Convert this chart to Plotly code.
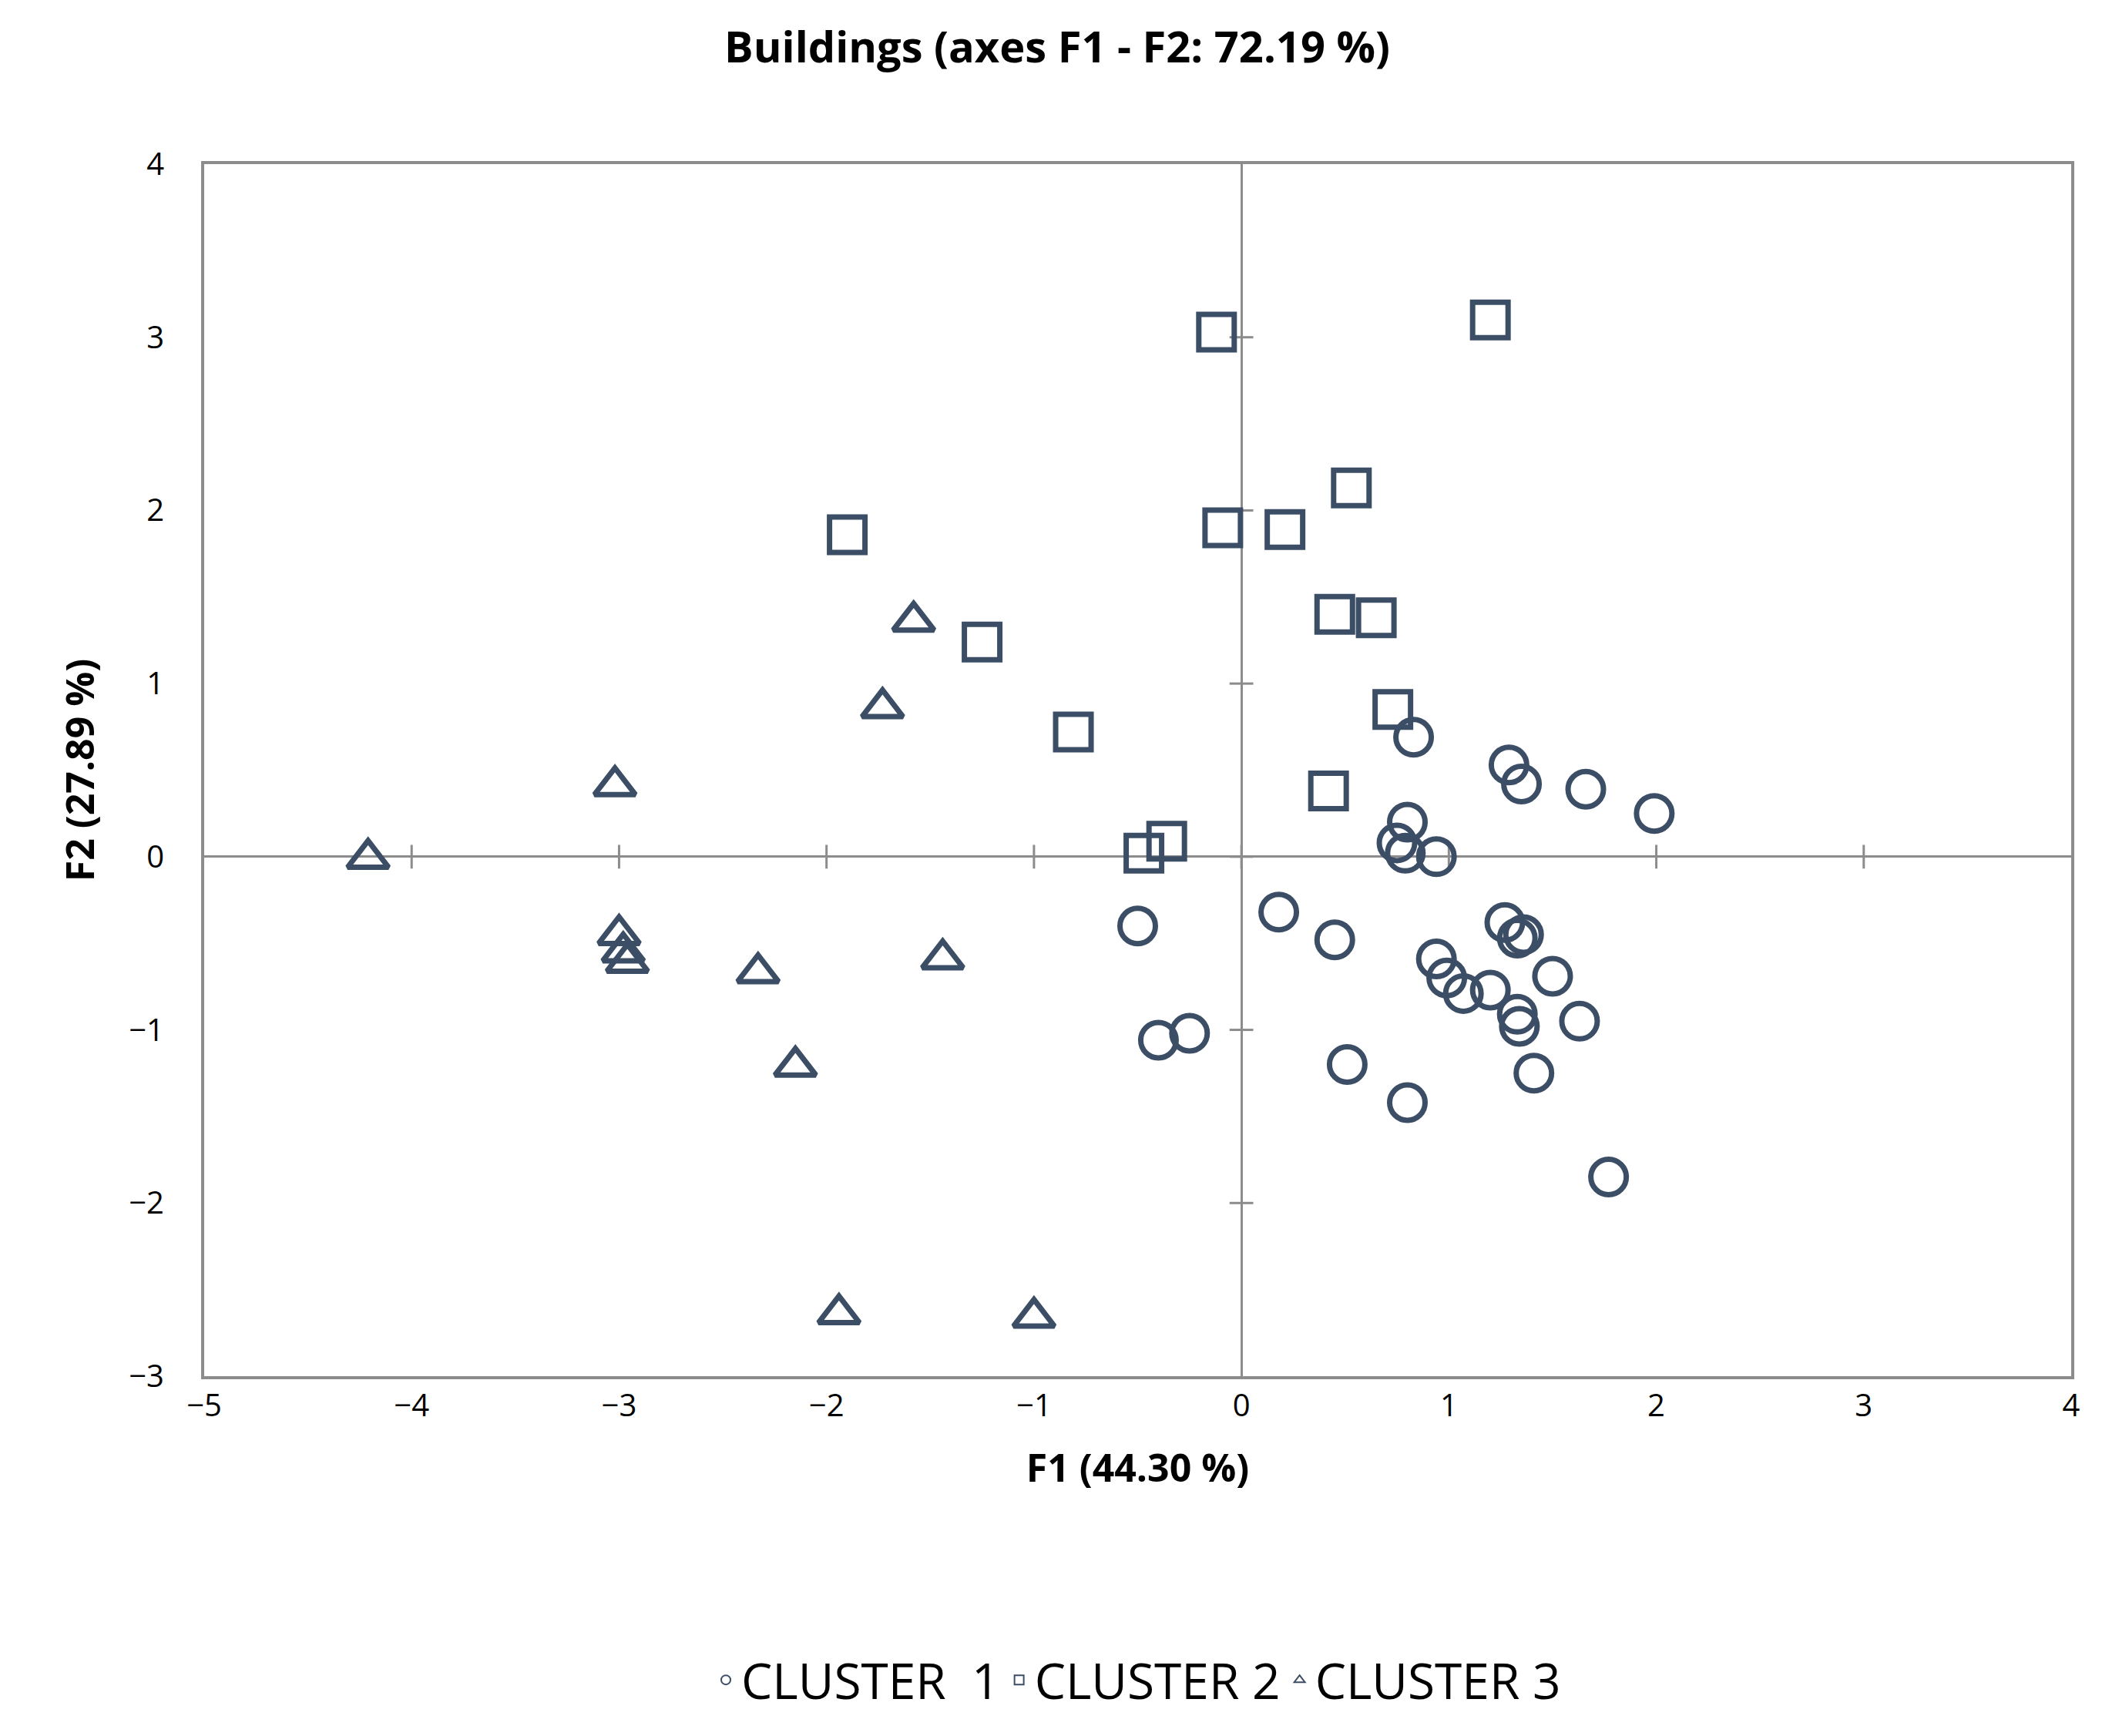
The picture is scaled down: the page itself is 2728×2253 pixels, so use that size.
import plotly.graph_objects as go

c1_x = [0.83,1.29,1.35,1.66,1.99,0.80,0.75,0.79,0.94,0.18,-0.50,0.45,1.27,1.33,1.36,0.94,0.99,1.07,1.20,1.33,1.34,1.50,1.63,-0.25,-0.40,0.51,1.41,0.80,1.77]
c1_y = [0.69,0.53,0.42,0.39,0.25,0.20,0.08,0.02,0.0,-0.32,-0.40,-0.48,-0.38,-0.47,-0.45,-0.59,-0.70,-0.79,-0.77,-0.91,-0.98,-0.69,-0.95,-1.02,-1.06,-1.20,-1.25,-1.42,-1.85]
c2_x = [-0.12,1.20,0.53,-0.09,0.21,-1.90,0.45,0.65,-1.25,0.73,-0.81,0.42,-0.36,-0.47]
c2_y = [3.03,3.10,2.13,1.90,1.89,1.86,1.40,1.38,1.24,0.85,0.72,0.38,0.09,0.02]
c3_x = [-1.58,-1.73,-3.02,-4.21,-3.00,-2.98,-2.96,-2.33,-1.44,-2.15,-1.94,-1.00]
c3_y = [1.36,0.86,0.41,-0.01,-0.45,-0.55,-0.61,-0.67,-0.59,-1.21,-2.64,-2.66]
x_ticks = [-5,-4,-3,-2,-1,0,1,2,3,4]
y_ticks = [-3,-2,-1,0,1,2,3,4]

col = "#3b4e66"
fig = go.Figure()
grey = "#8c8c8c"
# cross ticks on the zero lines
fig.add_trace(go.Scatter(x=x_ticks[1:-1], y=[0]*(len(x_ticks)-2), mode="markers", showlegend=False, hoverinfo="skip",
                         marker=dict(symbol="line-ns", size=22, line=dict(color=grey, width=3))))
fig.add_trace(go.Scatter(x=[0]*(len(y_ticks)-2), y=y_ticks[1:-1], mode="markers", showlegend=False, hoverinfo="skip",
                         marker=dict(symbol="line-ew", size=22, line=dict(color=grey, width=3))))
for name, xs, ys, sym in [("CLUSTER  1", c1_x, c1_y, "circle-open"),
                          ("CLUSTER 2", c2_x, c2_y, "square-open"),
                          ("CLUSTER 3", c3_x, c3_y, "triangle-up-open")]:
    fig.add_trace(go.Scatter(x=xs, y=ys, mode="markers", name=name,
                             marker=dict(symbol=sym, size=46, color=col, line=dict(color=col, width=7))))

fig.update_layout(
    width=2728, height=2253, paper_bgcolor="white", plot_bgcolor="white",
    font=dict(family="Open Sans, Liberation Sans", color="black"),
    margin=dict(l=257, r=48, t=205, b=475),
    title=dict(text="<b>Buildings (axes F1 - F2: 72.19 %)</b>", x=0.5, xanchor="center", y=0.985, yanchor="top",
               font=dict(size=56)),
    legend=dict(orientation="h", x=0.5, xanchor="center", y=-0.22, yanchor="top", font=dict(size=64),
                itemsizing="constant"),
)
fig.update_xaxes(range=[-5,4], tickvals=x_ticks, showgrid=False, zeroline=True, zerolinecolor=grey, zerolinewidth=3,
                 showline=True, linecolor=grey, linewidth=4, mirror=True, tickfont=dict(size=40), ticks="",
                 title=dict(text="<b>F1 (44.30 %)</b>", font=dict(size=50), standoff=40))
fig.update_yaxes(range=[-3,4], tickvals=y_ticks, showgrid=False, zeroline=True, zerolinecolor=grey, zerolinewidth=3,
                 showline=True, linecolor=grey, linewidth=4, mirror=True, tickfont=dict(size=40), ticks="",
                 ticklabelstandoff=40, title=dict(text="<b>F2 (27.89 %)</b>", font=dict(size=50), standoff=30))
fig.write_html("out.html")
